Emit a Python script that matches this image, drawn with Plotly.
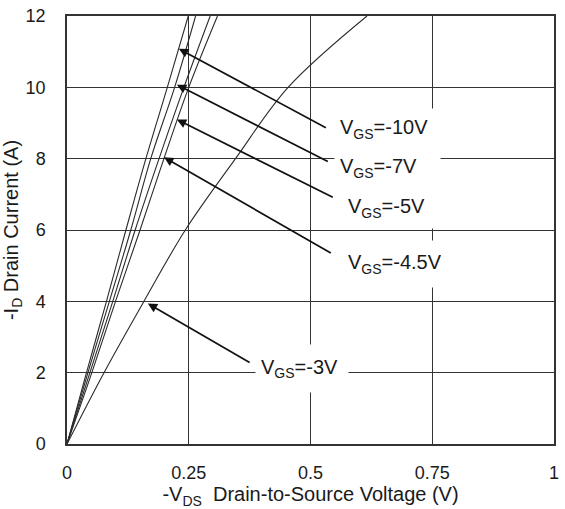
import plotly.graph_objects as go

# Drain current levels (A) at which each curve was sampled
id_levels = [0, 2, 4, 6, 8, 10, 12]

# -VDS (V) needed to reach each current level, per gate voltage
vds_10v = [0, 0.040, 0.081, 0.121, 0.162, 0.206, 0.249]
vds_7v = [0, 0.043, 0.087, 0.131, 0.172, 0.221, 0.264]
vds_5v = [0, 0.047, 0.094, 0.140, 0.189, 0.240, 0.294]
vds_45v = [0, 0.051, 0.0996, 0.150, 0.199, 0.250, 0.309]
vds_3v = [0, 0.076, 0.158, 0.243, 0.346, 0.454, 0.616]

series = [vds_10v, vds_7v, vds_5v, vds_45v, vds_3v]
vgs_labels = ["V<sub>GS</sub>=-10V", "V<sub>GS</sub>=-7V", "V<sub>GS</sub>=-5V",
              "V<sub>GS</sub>=-4.5V", "V<sub>GS</sub>=-3V"]

# Callout arrows: tip on the curve, tail next to the label
tip_x = [0.2297, 0.2256, 0.2256, 0.1992, 0.1660]
tip_y = [11.08, 10.075, 9.098, 8.038, 3.94]
tail_x = [0.5346, 0.5386, 0.5488, 0.5447, 0.378]
tail_y = [8.847, 7.898, 6.894, 5.331, 2.261]

# Label boxes (left edge, vertical centre) and box sizes
label_x = [0.5488, 0.5488, 0.565, 0.565, 0.386]
label_y = [8.82, 7.73, 6.61, 5.05, 2.12]
label_w = [95, 95, 80, 93, 82]
label_h = [30, 30, 30, 36, 37]

x_ticks = [0, 0.25, 0.5, 0.75, 1]
x_tick_text = ["0", "0.25", "0.5", "0.75", "1"]
y_ticks = [0, 2, 4, 6, 8, 10, 12]

FONT = "Liberation Sans, Arial, sans-serif"
INK = "#1a1a1a"
GRID = "#333333"

fig = go.Figure()
for xs in series:
    fig.add_trace(go.Scatter(
        x=xs, y=id_levels, mode="lines",
        line=dict(color="#2a2a2a", width=1.1, shape="spline", smoothing=1.0),
        showlegend=False, hoverinfo="skip", cliponaxis=True,
    ))

annotations = []
for tx, ty, ax, ay in zip(tip_x, tip_y, tail_x, tail_y):
    annotations.append(dict(
        x=tx, y=ty, xref="x", yref="y",
        ax=ax, ay=ay, axref="x", ayref="y",
        text="", showarrow=True,
        arrowhead=2, arrowsize=1.1, arrowwidth=1.7, arrowcolor="#111111",
        standoff=0, startstandoff=0,
    ))
for text, lx, ly, w, h in zip(vgs_labels, label_x, label_y, label_w, label_h):
    annotations.append(dict(
        x=lx, y=ly, xref="x", yref="y",
        xanchor="left", yanchor="middle",
        text=text, showarrow=False, align="left",
        width=w, height=h, valign="middle",
        bgcolor="white", borderpad=5,
        font=dict(family=FONT, size=20, color=INK),
    ))

fig.update_layout(
    width=565, height=509,
    margin=dict(l=67, r=6, t=14, b=65),
    paper_bgcolor="white", plot_bgcolor="white",
    font=dict(family=FONT, color=INK),
    annotations=annotations,
    xaxis=dict(
        range=[0, 1], tickvals=x_ticks, ticktext=x_tick_text,
        showgrid=True, gridcolor=GRID, gridwidth=1.3,
        showline=True, mirror=True, linecolor=GRID, linewidth=1.5,
        zeroline=False, ticks="", ticklabelstandoff=12,
        tickfont=dict(size=18, family=FONT, color=INK),
        title=dict(text="-V<sub>DS</sub>  Drain-to-Source Voltage (V)",
                   font=dict(size=20, family=FONT, color=INK), standoff=0),
    ),
    yaxis=dict(
        range=[0, 12], tickvals=y_ticks,
        showgrid=True, gridcolor=GRID, gridwidth=1.3,
        showline=True, mirror=True, linecolor=GRID, linewidth=1.5,
        zeroline=False, ticks="", ticklabelstandoff=16,
        tickfont=dict(size=18, family=FONT, color=INK),
        title=dict(text="-I<sub>D</sub> Drain Current (A)",
                   font=dict(size=20, family=FONT, color=INK), standoff=4),
    ),
)

fig.write_html("out.html")
